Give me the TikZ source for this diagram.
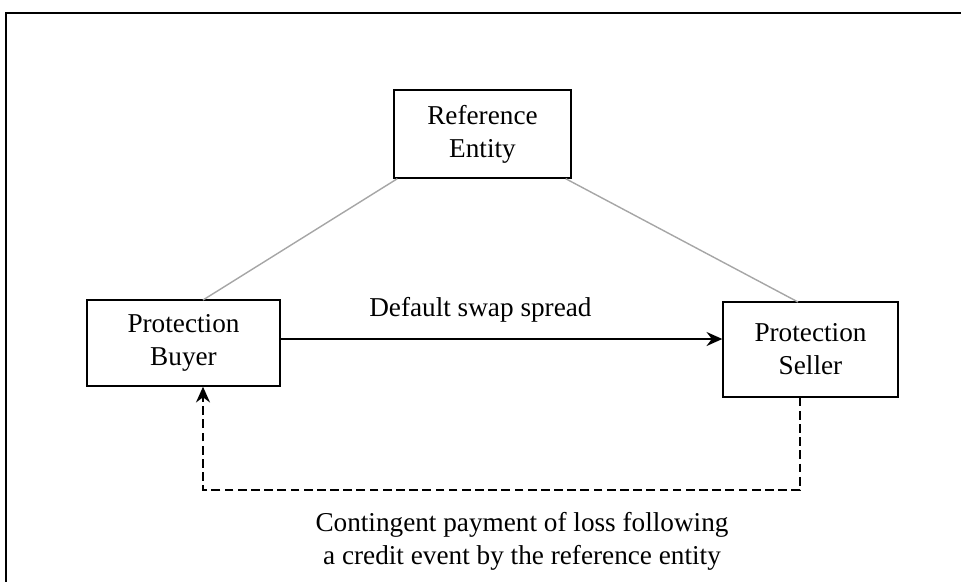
\documentclass[tikz,border=0pt]{standalone}
\usepackage{fontspec}
\setmainfont{Liberation Serif}
\usepackage{tikz}
\usetikzlibrary{arrows,arrows.meta,calc,positioning}
\tikzset{%
	party/.style   = {draw, rectangle, thick, align=center, font=\fontsize{15.5}{18.7}\selectfont, inner sep=0pt},
	tie/.style     = {gray!70, thick},
	arrow/.style   = {thick,-{Stealth[length=9pt,width=8pt,inset=3pt]}},
	dasharrow/.style = {thick,dashed,-{Stealth[length=9pt,width=8pt,inset=3pt]}},
	lbl/.style     = {align=center, font=\fontsize{15.5}{18.7}\selectfont},
}
\begin{document}
\begin{tikzpicture}[x=0.02cm,y=-0.02cm]
		\useasboundingbox (0,0) rectangle (961,582);
		\draw[thick] (6,582) -- (6,13) -- (961,13);
		
		\node[party, minimum width=3.54cm, minimum height=1.76cm] (ref) at (482.5,134) {Reference\\Entity};
		\node[party, minimum width=3.86cm, minimum height=1.72cm] (buyer) at (183.5,343) {Protection\\Buyer};
		\node[party, minimum width=3.5cm, minimum height=1.9cm] (seller) at (810.5,349.5) {Protection\\Seller};
		
		\coordinate (bt) at (203,300);
		\coordinate (st) at (798,302);
		\draw[tie] (bt) -- ($(ref.south west)+(4,0)$);
		\draw[tie] (st) -- ($(ref.south east)+(-6,0)$);
		
		\draw[arrow] (buyer.east |- 0,339) -- node[lbl, above=6pt, xshift=-12pt] {Default swap spread} (seller.west |- 0,339);
		
		\coordinate (sb) at (800,490);
		\coordinate (bb) at (203,490);
		\draw[dasharrow, dash pattern=on 5pt off 2.5pt] (seller.south -| sb) -- (sb) -- (bb) -- (buyer.south -| bb);
		\node[lbl] (loss) at (522,541) {Contingent payment of loss following\\a credit event by the reference entity};
\end{tikzpicture}
\end{document}
